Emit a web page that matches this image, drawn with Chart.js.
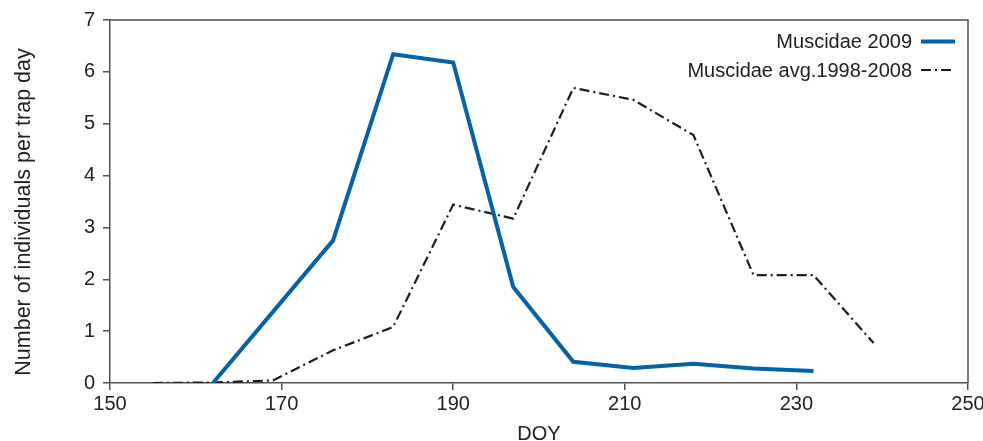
<!DOCTYPE html>
<html>
<head>
<meta charset="utf-8">
<script src="https://cdn.jsdelivr.net/npm/chart.js@4"></script>
<style>
  html, body { margin: 0; padding: 0; background: #fff; }
  #wrap { width: 983px; height: 441px; }
</style>
</head>
<body>
<div id="wrap"><canvas id="chart" width="983" height="441"></canvas></div>
<script>
// weekly sampling days (DOY) and catches per trap day
const doy2009 = [162, 176, 183, 190, 197, 204, 211, 218, 225, 232];
const muscidae2009 = [0, 2.75, 6.34, 6.18, 1.85, 0.41, 0.29, 0.37, 0.28, 0.23];
const doyAvg = [155, 162, 169, 176, 183, 190, 197, 204, 211, 218, 225, 232, 239];
const muscidaeAvg = [0, 0.01, 0.05, 0.63, 1.08, 3.44, 3.17, 5.69, 5.46, 4.78, 2.08, 2.08, 0.77];
const seriesNames = ['Muscidae 2009', 'Muscidae avg.1998-2008'];
const xTicks = [150, 170, 190, 210, 230, 250];
const yTicks = [0, 1, 2, 3, 4, 5, 6, 7];
const yTitle = 'Number of individuals per trap day';

const axisColor = '#505050';
const textColor = '#222';
const fontFamily = 'Liberation Sans, Arial, sans-serif';
const font = { family: fontFamily, size: 20 };
const dashPattern = [10, 4, 2, 4];

// top/right frame of the plot box
const framePlugin = {
    id: 'frame',
    afterDatasetsDraw(chart) {
        const { ctx, chartArea: a } = chart;
        ctx.save();
        ctx.strokeStyle = axisColor;
        ctx.lineWidth = 1.5;
        ctx.beginPath();
        ctx.moveTo(a.left, a.top);
        ctx.lineTo(a.right, a.top);
        ctx.lineTo(a.right, a.bottom);
        ctx.stroke();
        ctx.restore();
    }
};

// y title sits a bit below the plot centre in the original
const yTitlePlugin = {
    id: 'yTitle',
    afterDraw(chart) {
        const { ctx } = chart;
        ctx.save();
        ctx.translate(24, 212);
        ctx.rotate(-Math.PI / 2);
        ctx.font = '21.5px ' + fontFamily;
        ctx.fillStyle = textColor;
        ctx.textAlign = 'center';
        ctx.textBaseline = 'middle';
        ctx.fillText(yTitle, 0, 0);
        ctx.restore();
    }
};

// legend: text first, line sample on the right
const legendPlugin = {
    id: 'rightLegend',
    afterDraw(chart) {
        const { ctx } = chart;
        const textRight = 912;
        const rows = [48, 76.5];
        ctx.save();
        ctx.font = font.size + 'px ' + font.family;
        ctx.fillStyle = textColor;
        ctx.textAlign = 'right';
        ctx.textBaseline = 'alphabetic';
        chart.data.datasets.forEach((ds, i) => {
            const y = rows[i];
            ctx.fillText(ds.label, textRight, y);
            const ly = y - 6.5;
            ctx.beginPath();
            ctx.strokeStyle = ds.borderColor;
            ctx.lineWidth = ds.borderWidth;
            ctx.setLineDash(ds.borderDash || []);
            ctx.moveTo(921, ly);
            ctx.lineTo(i === 0 ? 955 : 951, ly);
            ctx.stroke();
        });
        ctx.restore();
    }
};

const ctx = document.getElementById('chart');

new Chart(ctx, {
    type: 'line',
    data: {
        datasets: [{
            label: seriesNames[0],
            data: doy2009.map((d, i) => ({ x: d, y: muscidae2009[i] })),
            borderColor: '#0462aa',
            borderWidth: 4,
            pointRadius: 0,
            tension: 0
        }, {
            label: seriesNames[1],
            data: doyAvg.map((d, i) => ({ x: d, y: muscidaeAvg[i] })),
            borderColor: '#1e1e1e',
            borderWidth: 2.2,
            borderDash: dashPattern,
            pointRadius: 0,
            tension: 0
        }]
    },
    options: {
        responsive: false,
        animation: false,
        devicePixelRatio: 1,
        layout: {
            padding: { top: 20, right: 15, left: 0, bottom: 0 }
        },
        scales: {
            x: {
                type: 'linear',
                min: 150,
                max: 250,
                afterBuildTicks: s => { s.ticks = xTicks.map(v => ({ value: v })); },
                afterFit: s => { s.height = 58; s.paddingRight = 0; s.paddingLeft = 0; },
                grid: {
                    drawOnChartArea: false,
                    drawTicks: true,
                    tickLength: 7,
                    color: axisColor,
                    lineWidth: 1.5
                },
                border: { color: axisColor, width: 1.5 },
                ticks: { font: font, color: textColor, padding: 2, maxRotation: 0 },
                title: {
                    display: true,
                    text: 'DOY',
                    color: textColor,
                    font: { family: fontFamily, size: 20, lineHeight: 0.7 },
                    padding: 0
                }
            },
            y: {
                min: 0,
                max: 7,
                afterBuildTicks: s => { s.ticks = yTicks.map(v => ({ value: v })); },
                afterFit: s => { s.width = 110; },
                grid: {
                    drawOnChartArea: false,
                    drawTicks: true,
                    tickLength: 7,
                    color: axisColor,
                    lineWidth: 1.5
                },
                border: { color: axisColor, width: 1.5 },
                ticks: { font: font, color: textColor, padding: 8 }
            }
        },
        plugins: {
            legend: { display: false },
            tooltip: { enabled: false }
        }
    },
    plugins: [framePlugin, yTitlePlugin, legendPlugin]
});
</script>
</body>
</html>
